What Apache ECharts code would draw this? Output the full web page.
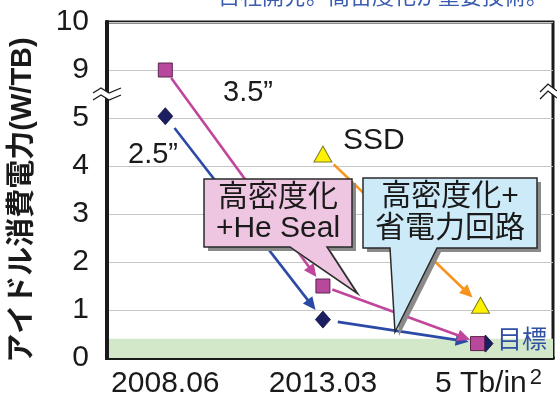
<!DOCTYPE html>
<html>
<head>
<meta charset="utf-8">
<script src="https://cdn.jsdelivr.net/npm/echarts@6/dist/echarts.min.js"></script>
<style>
  html, body { margin: 0; padding: 0; background: #fff; }
  #chart { width: 557px; height: 399px; }
</style>
</head>
<body>
<div id="chart"></div>
<script>
// Idle power per capacity (W/TB) by generation
const categories = ['2008.06', '2013.03', '5 Tb/in{sup|2}'];
const drive35 = [9, 1.5, 0.3];       // 3.5" HDD
const drive25 = [5.15, 0.8, 0.3];    // 2.5" HDD
const ssd = [null, 4.25, 1.1];       // SSD
const yTicks = [0, 1, 2, 3, 4, 5, 9, 10];
const targetLevel = 0.4;             // target band upper edge

// Broken y-axis: the span 5..9 is squeezed into one unit
const BREAK_LO = 5, BREAK_HI = 9;
function fy(v) {
  if (v <= BREAK_LO) return v;
  if (v >= BREAK_HI) return v - (BREAK_HI - BREAK_LO) + 1;
  return BREAK_LO + (v - BREAK_LO) / (BREAK_HI - BREAK_LO);
}

const X_MIN = -0.37, X_MAX = 2.46;
const LATIN = '"Liberation Sans", "Noto Sans CJK JP", sans-serif';
const CJK = '"Noto Sans CJK JP", "Liberation Sans", sans-serif';
const INK = '#1a1a1a';

function markerData(vals, lastOffset) {
  const out = [];
  vals.forEach((v, i) => {
    if (v == null) return;
    const item = { value: [i, fy(v)] };
    if (i === vals.length - 1 && lastOffset) item.symbolOffset = lastOffset;
    out.push(item);
  });
  return out;
}

function segments(vals) {
  const segs = [];
  for (let i = 0; i < vals.length - 1; i++) {
    if (vals[i] != null && vals[i + 1] != null) {
      segs.push([i, fy(vals[i]), i + 1, fy(vals[i + 1])]);
    }
  }
  return segs;
}

// Arrows between consecutive generations, trimmed so they stop short of the markers
function arrowSeries(vals, color, gapStart, gapEnd) {
  return {
    type: 'custom',
    coordinateSystem: 'cartesian2d',
    z: 3,
    silent: true,
    data: segments(vals),
    encode: { x: [0, 2], y: [1, 3] },
    renderItem(params, api) {
      const p1 = api.coord([api.value(0), api.value(1)]);
      const p2 = api.coord([api.value(2), api.value(3)]);
      const dx = p2[0] - p1[0], dy = p2[1] - p1[1];
      const len = Math.hypot(dx, dy);
      const ux = dx / len, uy = dy / len;
      const nx = -uy, ny = ux;
      const s = [p1[0] + ux * gapStart, p1[1] + uy * gapStart];
      const tip = [p2[0] - ux * gapEnd, p2[1] - uy * gapEnd];
      const HL = 13, HW = 6;
      const base = [tip[0] - ux * HL, tip[1] - uy * HL];
      return {
        type: 'group',
        children: [
          { type: 'line', shape: { x1: s[0], y1: s[1], x2: base[0] + ux * 2, y2: base[1] + uy * 2 },
            style: { stroke: color, lineWidth: 2.6 } },
          { type: 'polygon',
            shape: { points: [tip, [base[0] + nx * HW, base[1] + ny * HW], [base[0] - nx * HW, base[1] - ny * HW]] },
            style: { fill: color } }
        ]
      };
    }
  };
}

function callout(points, fill) {
  const shadow = points.map(p => [p[0] + 4, p[1] + 4]);
  return [
    { type: 'polygon', z: 100, silent: true, shape: { points: shadow }, style: { fill: '#8a8a8a' } },
    { type: 'polygon', z: 101, silent: true, shape: { points: points },
      style: { fill: fill, stroke: '#2a2a2a', lineWidth: 1.5 } }
  ];
}

function label(text, x, y, font, fill, align) {
  return { type: 'text', x: x, y: y, z: 102, silent: true,
    style: { text: text, font: font, fill: fill || INK, align: align || 'left', verticalAlign: 'middle' } };
}

const chart = echarts.init(document.getElementById('chart'), null, { renderer: 'canvas' });

chart.setOption({
  animation: false,
  backgroundColor: '#fff',
  grid: { left: 107, right: 4, top: 22, bottom: 39, show: true, borderColor: INK, borderWidth: 3, backgroundColor: '#fff' },
  xAxis: {
    type: 'value', min: X_MIN, max: X_MAX,
    splitLine: { show: false },
    axisLine: { onZero: false, lineStyle: { color: INK, width: 4 } },
    axisTick: { show: true, inside: true, length: 14, customValues: [0, 1, 2], lineStyle: { color: INK, width: 1.5 } },
    axisLabel: {
      customValues: [0, 1, 2],
      formatter: v => {
        const c = categories[Math.round(v)];
        const i = c.indexOf('{');
        return i < 0 ? '{b|' + c + '}' : '{u|' + c.slice(0, i) + '}' + c.slice(i);
      },
      margin: 9, color: INK, fontSize: 30, fontFamily: LATIN,
      rich: {
        b: { fontSize: 30, lineHeight: 34, color: INK, fontFamily: LATIN },
        u: { fontSize: 30, lineHeight: 34, color: INK, fontFamily: LATIN, padding: [0, 0, 0, 16] },
        sup: { fontSize: 22, lineHeight: 12, verticalAlign: 'top', color: INK, fontFamily: LATIN, padding: [0, 0, 0, 3] }
      }
    }
  },
  yAxis: {
    type: 'value', min: 0, max: 7, interval: 1, position: 'left',
    axisLine: { show: true, onZero: false, lineStyle: { color: INK, width: 4 } },
    axisTick: { show: false },
    splitLine: { lineStyle: { color: '#c6c6c6', width: 1.2 } },
    axisLabel: {
      formatter: v => {
        const t = yTicks.find(k => Math.abs(fy(k) - v) < 1e-6);
        return t == null ? '' : String(t);
      },
      margin: 18, color: INK, fontSize: 30, fontFamily: LATIN
    }
  },
  series: [
    {
      name: 'SSD', type: 'scatter', z: 4,
      data: markerData(ssd),
      symbol: 'triangle', symbolSize: [18, 16],
      itemStyle: { color: '#fff200', borderColor: '#7c7a2c', borderWidth: 1, opacity: 1 },
      markArea: {
        silent: true, z: 1,
        itemStyle: { color: '#d3e8c8' },
        data: [[{ yAxis: 0 }, { yAxis: fy(targetLevel) }]]
      }
    },
    arrowSeries(ssd, '#f7941d', 15, 11),
    arrowSeries(drive25, '#2b4aa6', 15, 12),
    arrowSeries(drive35, '#c0469b', 10, 11),
    {
      name: '2.5"', type: 'scatter', z: 5,
      data: markerData(drive25, [5, 0]),
      symbol: 'diamond', symbolSize: [15, 17],
      itemStyle: { color: '#1b1f62', borderColor: '#10123a', borderWidth: 0.8, opacity: 1 }
    },
    {
      name: '3.5"', type: 'scatter', z: 6,
      data: markerData(drive35, [-3, 0]),
      symbol: 'rect', symbolSize: 14,
      itemStyle: { color: '#b8489b', borderColor: '#5a2450', borderWidth: 1, opacity: 1 }
    }
  ],
  graphic: {
    elements: [
      // truncated heading line along the top edge
      label('・自社開発。高密度化が重要技術。', 548, -4, '22px ' + CJK, '#3a5cb0', 'right'),
      // vertical axis title
      { type: 'text', x: 23, y: 200, rotation: Math.PI / 2, z: 102, silent: true,
        style: { text: 'アイドル消費電力(W/TB)', font: 'bold 29px ' + LATIN, fill: INK, align: 'center', verticalAlign: 'middle' } },

      // series names
      label('3.5”', 223, 93, '29px ' + LATIN),
      label('2.5”', 128, 155, '29px ' + LATIN),
      label('SSD', 343, 141, '30px ' + LATIN),
      label('目標', 497, 338, '25px ' + CJK, '#2f50a3'),

      // callout: density + helium seal
      ...callout([[204, 179], [352, 179], [352, 247], [327, 247], [357, 293], [290, 247], [204, 247]], '#efc6e1'),
      label('高密度化', 278, 198, '30px ' + LATIN, INK, 'center'),
      label('+He Seal', 278, 229, '30px ' + LATIN, INK, 'center'),

      // callout: density + power-saving circuit
      ...callout([[363, 178], [537, 178], [537, 248], [437, 248], [395, 332], [390, 248], [363, 248]], '#cdeaf8'),
      label('高密度化+', 450, 197, '30px ' + LATIN, INK, 'center'),
      label('省電力回路', 450, 229, '30px ' + LATIN, INK, 'center')
    ]
  }
});

// Left frame edge and the axis-break marks, placed from the grid's own scale
const bottomLeft = chart.convertToPixel({ gridIndex: 0 }, [X_MIN, 0]);
const topLeft = chart.convertToPixel({ gridIndex: 0 }, [X_MIN, fy(10)]);
const topRight = chart.convertToPixel({ gridIndex: 0 }, [X_MAX, fy(10)]);
const breakY = (chart.convertToPixel({ gridIndex: 0 }, [X_MIN, fy(BREAK_LO)])[1] +
                chart.convertToPixel({ gridIndex: 0 }, [X_MIN, fy(BREAK_HI)])[1]) / 2;
const lx = bottomLeft[0], rx = topRight[0];

function zig(x0, dy) {
  return [[x0 - 14, breakY + 2 + dy], [x0 - 6, breakY - 3 + dy], [x0 + 2, breakY + 2 + dy], [x0 + 14, breakY - 3 + dy]];
}
function chevron(x0, dy) {
  return [[x0 - 13, breakY + 1 + dy], [x0 - 5, breakY - 7 + dy], [x0 + 4, breakY + dy]];
}
const upL = zig(lx, -3), loL = zig(lx, 4);
const upR = chevron(rx, -3), loR = chevron(rx, 4);

chart.setOption({
  graphic: {
    elements: [
      { id: 'frameLeft', type: 'line', z: 98, silent: true,
        shape: { x1: lx, y1: topLeft[1] - 1.5, x2: lx, y2: bottomLeft[1] + 2 },
        style: { stroke: INK, lineWidth: 4 } },
      { id: 'brkFillL', type: 'polygon', z: 99, silent: true,
        shape: { points: upL.concat(loL.slice().reverse()) }, style: { fill: '#fff' } },
      { id: 'brkL1', type: 'polyline', z: 100, silent: true, shape: { points: upL },
        style: { stroke: INK, lineWidth: 1.3, fill: null } },
      { id: 'brkL2', type: 'polyline', z: 100, silent: true, shape: { points: loL },
        style: { stroke: INK, lineWidth: 1.3, fill: null } },
      { id: 'brkFillR', type: 'polygon', z: 99, silent: true,
        shape: { points: upR.concat(loR.slice().reverse()) }, style: { fill: '#fff' } },
      { id: 'brkR1', type: 'polyline', z: 100, silent: true, shape: { points: upR },
        style: { stroke: INK, lineWidth: 1.3, fill: null } },
      { id: 'brkR2', type: 'polyline', z: 100, silent: true, shape: { points: loR },
        style: { stroke: INK, lineWidth: 1.3, fill: null } }
    ]
  }
});
</script>
</body>
</html>
